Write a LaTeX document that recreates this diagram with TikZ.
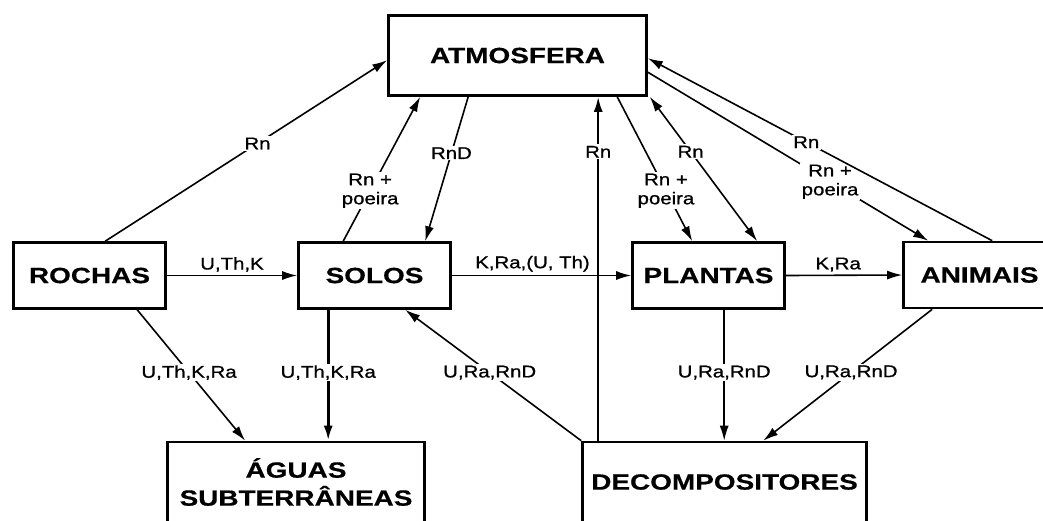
\documentclass[tikz,border=0pt]{standalone}
\usepackage{fontspec}
\setmainfont{Liberation Sans}
\newfontfamily\boxfont[FakeStretch=1.27,FakeBold=0.6]{Liberation Sans}
\newfontfamily\lblfont[FakeStretch=1.2,FakeBold=0.9]{Liberation Sans}
\usetikzlibrary{arrows.meta,calc}
\tikzset{arr/.tip={Latex[length=15pt,width=9pt]}}
\begin{document}
\begin{tikzpicture}[x=1pt,y=-1pt,
  box/.style={draw,line width=2.6pt,minimum width=152pt,minimum height=66pt,inner sep=0pt,
    font=\boxfont\bfseries\fontsize{22}{28}\selectfont,align=center},
  flow/.style={line width=1.6pt,-arr},
  lbl/.style={font=\lblfont\fontsize{17}{19}\selectfont,fill=white,inner sep=1.5pt,align=center},
  toplbl/.style={font=\lblfont\fontsize{17}{19}\selectfont,above=2pt,inner sep=1pt}]
\useasboundingbox (0,0) rectangle (1043,520);
\begin{scope}
\clip (0,0) rectangle (1043,520);
\node[box,minimum width=258pt,minimum height=80pt] (atm) at (517.5,55.5) {ATMOSFERA};
\node[box] (rochas) at (89.5,275.5) {ROCHAS};
\node[box] (solos) at (374.5,275.5) {SOLOS};
\node[box] (plantas) at (708.5,275.5) {PLANTAS};
\node[box] (animais) at (979.5,275) {ANIMAIS};
\node[box,minimum width=257pt,minimum height=80pt] (aguas) at (296,482) {ÁGUAS\\SUBTERRÂNEAS};
\node[box,minimum width=284pt,minimum height=80pt] (decomp) at (724.5,482) {DECOMPOSITORES};

% to / from atmosphere
\draw[flow] ($(rochas.north west)+(93,0)$) -- node[lbl,pos=0.54]{Rn} ($(atm.north west)+(0,46)$);
\draw[flow] ($(solos.north west)+(46,0)$) -- node[lbl,pos=0.35]{Rn +\\poeira} ($(atm.south west)+(33,0)$);
\draw[flow] ($(atm.south west)+(81,0)$) -- node[lbl,pos=0.39]{RnD} ($(solos.north west)+(128,0)$);
\draw[flow,line width=2.2pt] ($(decomp.north west)+(17,0)$) -- node[lbl,pos=0.84]{Rn} ($(atm.south west)+(211,0)$);
\draw[flow] ($(atm.south west)+(230,0)$) -- node[lbl,pos=0.65]{Rn +\\poeira} ($(plantas.north west)+(61,0)$);
\draw[line width=1.6pt,arr-arr] ($(atm.south east)+(2,0)$) -- node[lbl,pos=0.38]{Rn} ($(plantas.north west)+(126,0)$);
\draw[flow] ($(atm.north east)+(0,58)$) -- node[lbl,pos=0.65]{Rn +\\poeira} ($(animais.north west)+(26,0)$);
\draw[flow] ($(animais.north west)+(90,0)$) -- node[lbl,pos=0.54]{Rn} ($(atm.north east)+(0,44)$);

% horizontal chain
\draw[flow] (rochas.east) -- node[toplbl]{U,Th,K} (solos.west);
\draw[flow] (solos.east) -- node[toplbl,pos=0.45]{K,Ra,(U, Th)} (plantas.west);
\draw[flow] (plantas.east) -- node[toplbl,pos=0.45]{K,Ra} (animais.west);

% downward
\draw[flow] ($(rochas.south west)+(125,0)$) -- node[lbl,pos=0.48]{U,Th,K,Ra} ($(aguas.north west)+(79,0)$);
\draw[flow,line width=2.8pt] ($(solos.south west)+(31,0)$) -- node[lbl,pos=0.48]{U,Th,K,Ra} ($(aguas.north west)+(162,0)$);
\draw[flow] (decomp.north west) -- node[lbl,pos=0.52]{U,Ra,RnD} ($(solos.south west)+(108,0)$);
\draw[flow] ($(plantas.south west)+(93,0)$) -- node[lbl,pos=0.48]{U,Ra,RnD} ($(decomp.north west)+(143,0)$);
\draw[flow] ($(animais.south west)+(30,0)$) -- node[lbl,pos=0.48]{U,Ra,RnD} ($(decomp.north west)+(182,0)$);
\end{scope}
\end{tikzpicture}
\end{document}
